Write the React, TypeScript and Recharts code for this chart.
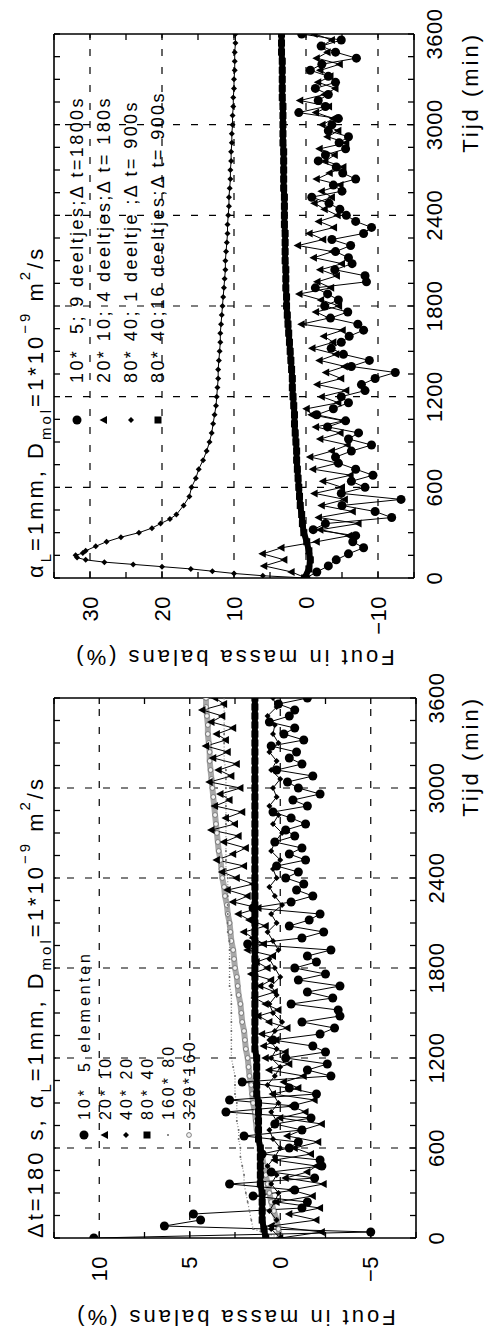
import { Line, LineChart, ReferenceLine, XAxis, YAxis } from "recharts";

// time axis (min)
const TIME_TICKS = [
  0, 150, 300, 450, 600, 750, 900, 1050, 1200, 1350, 1500, 1650, 1800, 1950,
  2100, 2250, 2400, 2550, 2700, 2850, 3000, 3150, 3300, 3450, 3600,
];
const TIME_LABELS = [0, 600, 1200, 1800, 2400, 3000, 3600];
const TIME_GRID = [600, 1200, 1800, 2400, 3000];

const T40 = [
  0, 40, 80, 120, 160, 200, 240, 280, 320, 360,
  400, 440, 480, 520, 560, 600, 640, 680, 720, 760,
  800, 840, 880, 920, 960, 1000, 1040, 1080, 1120, 1160,
  1200, 1240, 1280, 1320, 1360, 1400, 1440, 1480, 1520, 1560,
  1600, 1640, 1680, 1720, 1760, 1800, 1840, 1880, 1920, 1960,
  2000, 2040, 2080, 2120, 2160, 2200, 2240, 2280, 2320, 2360,
  2400, 2440, 2480, 2520, 2560, 2600, 2640, 2680, 2720, 2760,
  2800, 2840, 2880, 2920, 2960, 3000, 3040, 3080, 3120, 3160,
  3200, 3240, 3280, 3320, 3360, 3400, 3440, 3480, 3520, 3560,
  3600,
];
const T60 = [
  0, 60, 120, 180, 240, 300, 360, 420, 480, 540,
  600, 660, 720, 780, 840, 900, 960, 1020, 1080, 1140,
  1200, 1260, 1320, 1380, 1440, 1500, 1560, 1620, 1680, 1740,
  1800, 1860, 1920, 1980, 2040, 2100, 2160, 2220, 2280, 2340,
  2400, 2460, 2520, 2580, 2640, 2700, 2760, 2820, 2880, 2940,
  3000, 3060, 3120, 3180, 3240, 3300, 3360, 3420, 3480, 3540,
  3600,
];
const T_FINE = [
  0, 15, 30, 45, 60, 75, 90, 105, 120, 135, 150, 165, 180, 210, 240, 270, 300,
  330, 360, 390, 420, 480, 540,
  600, 660, 720, 780, 840, 900, 960, 1020, 1080, 1140,
  1200, 1260, 1320, 1380, 1440, 1500, 1560, 1620, 1680, 1740,
  1800, 1860, 1920, 1980, 2040, 2100, 2160, 2220, 2280, 2340,
  2400, 2460, 2520, 2580, 2640, 2700, 2760, 2820, 2880, 2940,
  3000, 3060, 3120, 3180, 3240, 3300, 3360, 3420, 3480, 3540,
  3600,
];

// ---- panel "alpha_L = 1mm" (fout in %) ----
const AL_Y_TICKS = [-15, -10, -5, 0, 5, 10, 15, 20, 25, 30, 35];
const AL_Y_LABELS = [-10, 0, 10, 20, 30];

const AL_CIRCLE = [
  0.0, -1.5, -3.1, -4.2, -5.9, -8.0, -6.5, -6.9, -1.0, -2.7,
  -11.9, -9.6, -5.0, -13.2, -4.9, -8.2, -6.3, -9.3, -6.9, -4.5,
  -4.1, -6.3, -9.1, -5.9, -7.3, -3.0, -5.5, -1.5, -3.8, -5.9,
  -4.9, -8.2, -7.7, -9.6, -12.4, -6.3, -8.8, -5.2, -3.5, -4.9,
  -6.0, -8.0, -7.2, -3.4, -5.8, -2.6, -4.5, -3.0, -1.3, -8.4,
  -8.2, -4.0, -6.4, -5.9, -4.1, -6.2, -3.6, -8.0, -9.1, -6.9,
  -5.6, -4.7, -3.2, -0.8, -5.0, -3.8, -6.9, -5.1, -4.2, -1.7,
  -2.7, -5.5, -4.6, -5.9, -3.1, -3.6, -4.5, 1.0, -2.7, -1.7,
  -3.1, -1.3, -4.1, -3.1, -0.6, -2.2, -7.0, -4.1, -2.1, -4.9,
  0.6,
];
const AL_TRIANGLE = [
  0.0, 2.0, 5.8, 3.0, 6.0, 3.4, -1.5, -6.0, -2.0, -7.3,
  -1.8, -6.5, -2.2, -5.4, -1.2, -5.0, -2.4, -6.2, -1.0, -4.4,
  -0.6, -3.6, -5.8, -2.0, -4.8, -1.4, -5.2, -0.8, -0.1, -4.5,
  -2.2, -5.6, -1.6, -4.9, -2.8, -5.4, -1.9, -4.2, -0.9, -3.8,
  -2.5, -5.1, 0.6, -3.2, -1.4, -4.6, -2.1, 0.9, -3.5, -1.6,
  -4.3, -2.0, -5.0, -1.1, -3.7, 1.1, -2.4, -0.5, -3.9, -1.8,
  -4.4, -2.6, -1.2, -3.6, -2.2, -4.8, -1.5, -3.3, -5.2, -2.7,
  -4.0, -1.9, -5.6, -3.0, -4.5, -2.3, -3.8, -1.4, -3.2, 0.8,
  -2.6, -4.1, -1.7, -3.4, -2.0, -4.7, -1.5, -3.0, -2.2, -3.6,
  -1.2,
];
const AL_DIAMOND = [
  0, 6, 10, 13, 16, 20, 24, 28, 30.6, 31.8, 32, 31, 30.6, 29.2, 27.7, 25.7,
  23.2, 21.4, 20.2, 18.9, 18.0, 17.0, 16.2,
  15.9, 15.3, 14.9, 14.3, 13.8, 13.4, 13.1, 12.9, 12.7, 12.5,
  12.4, 12.3, 12.2, 12.2, 12.1, 12.0, 11.9, 11.9, 11.8, 11.7,
  11.6, 11.5, 11.4, 11.3, 11.2, 11.2, 11.1, 11.0, 10.9, 10.9,
  10.8, 10.7, 10.7, 10.6, 10.5, 10.5, 10.4, 10.4, 10.3, 10.3,
  10.2, 10.2, 10.1, 10.1, 10.0, 10.0, 9.9, 9.9, 9.9, 9.8,
  9.8,
];
const AL_SQUARE = [
  0.2, -0.4, -0.6, -0.4, -0.1, 0.3, 0.5, 0.6, 0.8, 0.9,
  1.0, 1.1, 1.2, 1.3, 1.3, 1.4, 1.5, 1.6, 1.6, 1.7,
  1.8, 1.9, 1.9, 2.0, 2.1, 2.2, 2.3, 2.4, 2.5, 2.6,
  2.7, 2.7, 2.8, 2.8, 2.8, 2.9, 2.9, 2.9, 2.9, 3.0,
  3.0, 3.0, 3.0, 3.1, 3.1, 3.1, 3.1, 3.1, 3.2, 3.2,
  3.2, 3.2, 3.2, 3.3, 3.3, 3.3, 3.3, 3.3, 3.4, 3.4,
  3.4,
];
const AL_LEGEND = [
  "10*  5; 9 deeltjes;\u0394 t=1800s",
  "20* 10; 4 deeltjes;\u0394 t= 180s",
  "80* 40; 1 deeltje ;\u0394 t= 900s",
  "80* 40;16 deeltjes;\u0394 t= 900s",
];

// ---- panel "dt = 180 s" ----
const DT_Y_TICKS = [-7.5, -5, -2.5, 0, 2.5, 5, 7.5, 10, 12.5];
const DT_Y_LABELS = [-5, 0, 5, 10];

const DT_CIRCLE = [
  10.3, -5.0, 6.4, 4.4, 4.8, -1.2, -1.5, 1.5, -0.8, 2.8,
  -1.9, 0.5, -2.3, -2.2, 1.0, -0.5, -1.0, 2.0, -1.2, 0.3,
  -1.7, 3.0, -0.8, 2.8, -2.0, -0.5, 2.1, -2.8, -1.5, -2.6,
  -0.3, -2.5, -1.8, 0.4, -2.2, -3.0, -1.2, -3.3, -3.2, -0.6,
  -2.9, -1.5, -3.3, -1.0, -2.5, -0.8, -2.0, -1.5, -2.8, 1.8,
  -1.2, -2.4, -0.5, -1.6, -2.2, 1.5, -0.6, -1.8, -0.9, -1.3,
  -0.3, -1.0, 0.2, -1.4, -0.5, -1.2, 0.3, -0.8, -0.3, -1.4,
  -0.6, 0.4, -1.5, -0.7, -2.2, -1.0, -0.4, -1.8, 0.2, -1.2,
  -0.5, -0.9, 0.5, -1.3, -0.2, -0.8, 0.6, -0.5, -0.8, 0.1,
  -1.5,
];
const DT_TRIANGLE = [
  0.0, -2.3, 0.5, -2.0, -0.5, -2.2, 0.2, -1.8, -0.6, -2.4,
  -0.3, -1.5, -2.0, 0.3, -1.7, -0.8, -2.1, -0.4, -1.2, -2.3,
  0.0, -1.4, -0.6, -1.9, 0.4, -1.0, -0.2, -1.3, 0.6, -0.5,
  0.8, -0.3, 0.9, 0.2, 1.0, -0.4, 0.6, 1.2, 0.1, 0.8,
  1.4, 0.3, 1.1, 0.5, 1.6, 0.7, 1.3, 0.4, 1.8, 0.9,
  1.5, 2.0, 0.8, 1.7, 2.3, 1.2, 2.6, 1.8, 2.9, 1.5,
  2.4, 3.2, 2.0, 3.5, 2.6, 1.9, 3.1, 2.3, 3.8, 2.5,
  3.0, 2.1, 3.6, 2.8, 3.3, 2.2, 3.9, 2.7, 3.4, 2.4,
  3.7, 2.9, 4.1, 3.0, 3.5, 2.6, 3.8, 3.2, 4.3, 3.1,
  3.6,
];
const DT_DIAMOND = [
  0.0, 0.5, 0.2, 0.6, 0.3, 0.1, 0.5, 0.2, 0.7, 0.3,
  0.0, 0.4, 0.6, 0.2, 0.5, 0.1, 0.4, 0.7, 0.3, 0.0,
  0.5, 0.2, 0.6, 0.3, -0.1, 0.4, 0.6, 0.2, 0.5, 0.0,
  0.3, 0.6, 0.1, 0.4, 0.7, 0.2, 0.5, -0.1, 0.3, 0.6,
  0.2, 0.4, 0.0, 0.5, 0.3, -0.1, 0.4, 0.1, 0.6, 0.2,
  0.4, 0.0, 0.5, 0.2, 0.6, 0.1, 0.4, 0.3, 0.7, 0.2,
  0.4,
];
const DT_SQUARE = [
  0.8, 0.9, 1.0, 1.0, 1.0, 1.0, 1.1, 1.1, 1.1, 1.1,
  1.1, 1.2, 1.2, 1.2, 1.2, 1.2, 1.3, 1.3, 1.3, 1.3,
  1.3, 1.4, 1.4, 1.4, 1.4, 1.4, 1.4, 1.4, 1.4, 1.4,
  1.4, 1.4, 1.4, 1.4, 1.4, 1.4, 1.4, 1.4, 1.4, 1.4,
  1.4, 1.4, 1.4, 1.4, 1.4, 1.4, 1.4, 1.4, 1.4, 1.4,
  1.4, 1.4, 1.4, 1.4, 1.4, 1.4, 1.4, 1.4, 1.4, 1.4,
  1.4,
];
const DT_DOT = [
  0.0, 1.5, 1.6, 1.7, 1.8, 1.9, 2.0, 2.0, 2.1, 2.2,
  2.2, 2.3, 2.3, 2.4, 2.4, 2.4, 2.5, 2.5, 2.5, 2.6,
  2.7, 2.7, 2.7, 2.7, 2.7, 2.7, 2.7, 2.7, 2.8, 2.8,
  2.8, 2.8, 2.8, 2.8, 2.9, 2.9, 2.9, 2.9, 2.9, 2.9,
  2.9, 3.0, 3.0, 3.0, 3.0, 3.0, 3.0, 3.0, 3.0, 3.0,
  3.0, 3.0, 3.0, 3.1, 3.1, 3.1, 3.1, 3.1, 3.1, 3.1,
  3.1,
];
const DT_RING = [
  0.0, 0.1, 0.2, 0.35, 0.5, 0.6, 0.7, 0.8, 0.9, 1.0,
  1.1, 1.2, 1.3, 1.35, 1.4, 1.5, 1.55, 1.6, 1.7, 1.75,
  1.8, 1.9, 1.95, 2.0, 2.1, 2.15, 2.2, 2.3, 2.35, 2.4,
  2.5, 2.55, 2.6, 2.7, 2.75, 2.8, 2.9, 2.95, 3.05, 3.1,
  3.2, 3.25, 3.3, 3.4, 3.45, 3.5, 3.55, 3.6, 3.65, 3.7,
  3.75, 3.8, 3.85, 3.9, 3.9, 3.95, 4.0, 4.0, 4.05, 4.1,
  4.1,
];
const DT_LEGEND = ["10*  5 elementen", "20* 10", "40* 20", "80* 40", "160* 80", "320*160"];

const FONT = "'Liberation Sans', Arial, Helvetica, sans-serif";
const CHART_H = 490;
const PLOT_TOP = 54;
const X_AXIS_H = 60;
const Y_AXIS_W = 80;
const TICK_LEN = 6;
const AXIS_TITLE = "Fout in massa balans (%)";

type Shape = "circle" | "triangle" | "diamond" | "square" | "dot" | "ring";

interface Series {
  key: string;
  data: { t: number; v: number }[];
  shape: Shape;
  stroke: string;
  width: number;
  dash?: string;
}

const zip = (ts: number[], vs: number[]) => ts.map((t, i) => ({ t, v: vs[i] }));

function Marker({ shape, cx, cy }: { shape: Shape; cx?: number; cy?: number }) {
  if (cx == null || cy == null) return <g />;
  switch (shape) {
    case "circle":
      return <circle cx={cx} cy={cy} r={4.5} fill="#000" />;
    case "triangle":
      return <polygon points={`${cx},${cy - 4.5} ${cx - 4},${cy + 3} ${cx + 4},${cy + 3}`} fill="#000" />;
    case "diamond":
      return <polygon points={`${cx},${cy - 3} ${cx + 3},${cy} ${cx},${cy + 3} ${cx - 3},${cy}`} fill="#000" />;
    case "square":
      return <rect x={cx - 3.5} y={cy - 3.5} width={7} height={7} fill="#000" />;
    case "dot":
      return <circle cx={cx} cy={cy} r={1} fill="#666" />;
    default:
      return <circle cx={cx} cy={cy} r={2.4} fill="#f2f2f2" stroke="#666" strokeWidth={0.8} />;
  }
}

const fmt = (v: number) => (v < 0 ? `\u2212${Math.abs(v)}` : `${v}`);

function TimeTick(props: any) {
  const { x, y, payload, top } = props;
  const v = payload.value;
  return (
    <g>
      <line x1={x} x2={x} y1={y} y2={y - TICK_LEN} stroke="#000" strokeWidth={1.3} />
      <line x1={x} x2={x} y1={top} y2={top + TICK_LEN} stroke="#000" strokeWidth={1.3} />
      {TIME_LABELS.includes(v) && (
        <text x={x} y={y + 28} textAnchor="middle" fontSize={22} fontFamily={FONT} letterSpacing={0.5} fill="#000">
          {v}
        </text>
      )}
    </g>
  );
}

function ValTick(props: any) {
  const { x, y, payload, right, labels } = props;
  const v = payload.value;
  return (
    <g>
      <line x1={x} x2={x + TICK_LEN} y1={y} y2={y} stroke="#000" strokeWidth={1.3} />
      <line x1={right} x2={right - TICK_LEN} y1={y} y2={y} stroke="#000" strokeWidth={1.3} />
      {labels.includes(v) && (
        <text x={x - 18} y={y} dy="0.35em" textAnchor="end" fontSize={22} fontFamily={FONT} letterSpacing={0.5} fill="#000">
          {fmt(v)}
        </text>
      )}
    </g>
  );
}

function Title({ x, y, prefix }: { x: number; y: number; prefix: string }) {
  return (
    <text x={x} y={y} fontSize={22} fontFamily={FONT} letterSpacing={3} fill="#000" style={{ whiteSpace: "pre" }}>
      {prefix}α<tspan dy={8} fontSize={15}>L</tspan>
      <tspan dy={-8}>=1mm, D</tspan>
      <tspan dy={8} fontSize={15}>mol</tspan>
      <tspan dy={-8}>=1*10</tspan>
      <tspan dy={-13} fontSize={15}>{"\u22129"}</tspan>
      <tspan dy={13}> m</tspan>
      <tspan dy={-13} fontSize={15}>2</tspan>
      <tspan dy={13}>/s</tspan>
    </text>
  );
}

function Panel({
  left,
  width,
  plotLeft,
  plotRight,
  plotBottom,
  yTicks,
  yLabels,
  series,
  legend,
  legendShapes,
  legendX,
  legendTextX,
  legendY0,
  legendStep,
  legendFont,
  titlePrefix,
}: {
  left: number;
  width: number;
  plotLeft: number;
  plotRight: number;
  plotBottom: number;
  yTicks: number[];
  yLabels: number[];
  series: Series[];
  legend: string[];
  legendShapes: Shape[];
  legendX: number;
  legendTextX: number;
  legendY0: number;
  legendStep: number;
  legendFont: number;
  titlePrefix: string;
}) {
  const yMin = yTicks[0];
  const yMax = yTicks[yTicks.length - 1];
  const tMax = TIME_TICKS[TIME_TICKS.length - 1];
  const midY = (PLOT_TOP + plotBottom) / 2;
  return (
    <div style={{ position: "absolute", left, top: 0, width, height: CHART_H }}>
      <LineChart
        width={width}
        height={CHART_H}
        margin={{
          top: PLOT_TOP,
          right: width - plotRight,
          bottom: CHART_H - plotBottom - X_AXIS_H,
          left: plotLeft - Y_AXIS_W,
        }}
      >
        <XAxis
          type="number"
          dataKey="t"
          domain={[0, tMax]}
          ticks={TIME_TICKS}
          interval={0}
          allowDataOverflow
          height={X_AXIS_H}
          tickSize={0}
          tickMargin={0}
          tickLine={false}
          axisLine={{ stroke: "#000", strokeWidth: 1.6 }}
          tick={(p: any) => <TimeTick {...p} top={PLOT_TOP} />}
        />
        <YAxis
          type="number"
          dataKey="v"
          domain={[yMin, yMax]}
          ticks={yTicks}
          interval={0}
          allowDataOverflow
          width={Y_AXIS_W}
          tickSize={0}
          tickMargin={0}
          tickLine={false}
          axisLine={{ stroke: "#000", strokeWidth: 1.6 }}
          tick={(p: any) => <ValTick {...p} right={plotRight} labels={yLabels} />}
        />
        {TIME_GRID.map((t) => (
          <ReferenceLine key={`gx${t}`} x={t} stroke="#000" strokeWidth={1.2} strokeDasharray="7 11" />
        ))}
        {yLabels.map((v) => (
          <ReferenceLine key={`gy${v}`} y={v} stroke="#000" strokeWidth={1.2} strokeDasharray="7 11" />
        ))}
        <ReferenceLine x={tMax} stroke="#000" strokeWidth={1.6} />
        <ReferenceLine y={yMax} stroke="#000" strokeWidth={1.6} />
        {series.map((s) => (
          <Line
            key={s.key}
            data={s.data}
            dataKey="v"
            type="linear"
            stroke={s.stroke}
            strokeWidth={s.width}
            strokeDasharray={s.dash}
            isAnimationActive={false}
            activeDot={false}
            dot={(p: any) => <Marker key={`${s.key}-${p.index}`} shape={s.shape} cx={p.cx} cy={p.cy} />}
          />
        ))}
      </LineChart>
      <svg
        width={width}
        height={CHART_H}
        style={{ position: "absolute", left: 0, top: 0, pointerEvents: "none", overflow: "visible" }}
      >
        <Title x={plotLeft} y={43} prefix={titlePrefix} />
        <text x={plotRight + 2} y={478} textAnchor="end" fontSize={22} fontFamily={FONT} letterSpacing={3} fill="#000">
          Tijd (min)
        </text>
        <text
          x={plotLeft - 72}
          y={midY}
          transform={`rotate(-90, ${plotLeft - 72}, ${midY})`}
          textAnchor="middle"
          fontSize={22}
          fontFamily={FONT}
          letterSpacing={3}
          fill="#000"
        >
          {AXIS_TITLE}
        </text>
        {legend.map((label, i) => {
          const y = legendY0 + i * legendStep;
          return (
            <g key={label}>
              <Marker shape={legendShapes[i]} cx={legendX} cy={y} />
              <text
                x={legendTextX}
                y={y + legendFont * 0.36}
                fontSize={legendFont}
                fontFamily={FONT}
                letterSpacing={legendFont > 17 ? 2.4 : 3}
                fill="#000"
                style={{ whiteSpace: "pre" }}
              >
                {label}
              </text>
            </g>
          );
        })}
      </svg>
    </div>
  );
}

const DT_SHAPES: Shape[] = ["circle", "triangle", "diamond", "square", "dot", "ring"];
const AL_SHAPES: Shape[] = ["circle", "triangle", "diamond", "square"];

// draw order: grey series first, thick black line on top
const DT_SERIES: Series[] = [
  { key: "r", data: zip(T60, DT_RING), shape: "ring", stroke: "#a8a8a8", width: 6 },
  { key: "p", data: zip(T60, DT_DOT), shape: "dot", stroke: "#888", width: 1.2, dash: "1 2" },
  { key: "c", data: zip(T40, DT_CIRCLE), shape: "circle", stroke: "#000", width: 1 },
  { key: "t", data: zip(T40, DT_TRIANGLE), shape: "triangle", stroke: "#000", width: 1 },
  { key: "d", data: zip(T60, DT_DIAMOND), shape: "diamond", stroke: "#000", width: 1 },
  { key: "s", data: zip(T60, DT_SQUARE), shape: "square", stroke: "#000", width: 6 },
];

const AL_SERIES: Series[] = [
  { key: "c", data: zip(T40, AL_CIRCLE), shape: "circle", stroke: "#000", width: 1 },
  { key: "t", data: zip(T40, AL_TRIANGLE), shape: "triangle", stroke: "#000", width: 1 },
  { key: "d", data: zip(T_FINE, AL_DIAMOND), shape: "diamond", stroke: "#000", width: 1 },
  { key: "s", data: zip(T60, AL_SQUARE), shape: "square", stroke: "#000", width: 6 },
];

export default function App() {
  return (
    <div
      style={{
        position: "absolute",
        left: 0,
        top: 0,
        width: 490,
        height: 1335,
        overflow: "hidden",
        background: "#fff",
      }}
    >
      <style>{".recharts-surface { overflow: visible; }"}</style>
      <div
        style={{
          position: "absolute",
          left: 0,
          top: 0,
          width: 1335,
          height: CHART_H,
          transformOrigin: "0 0",
          transform: "translateY(1335px) rotate(-90deg)",
        }}
      >
        <Panel
          left={0}
          width={660}
          plotLeft={97}
          plotRight={637}
          plotBottom={416}
          yTicks={DT_Y_TICKS}
          yLabels={DT_Y_LABELS}
          series={DT_SERIES}
          legend={DT_LEGEND}
          legendShapes={DT_SHAPES}
          legendX={200}
          legendTextX={215}
          legendY0={84}
          legendStep={21}
          legendFont={16}
          titlePrefix={"\u0394t=180 s, "}
        />
        <Panel
          left={660}
          width={675}
          plotLeft={97}
          plotRight={641}
          plotBottom={414}
          yTicks={AL_Y_TICKS}
          yLabels={AL_Y_LABELS}
          series={AL_SERIES}
          legend={AL_LEGEND}
          legendShapes={AL_SHAPES}
          legendX={255}
          legendTextX={292}
          legendY0={77}
          legendStep={27}
          legendFont={18}
          titlePrefix=""
        />
      </div>
    </div>
  );
}
